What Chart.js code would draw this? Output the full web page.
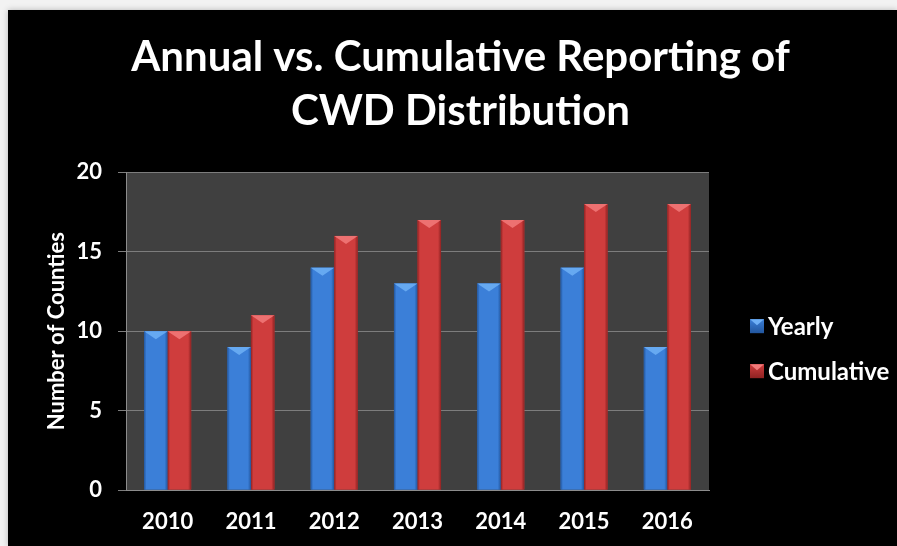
<!DOCTYPE html>
<html lang="en">
  <head>
    <meta charset="UTF-8" />
    <title>Annual vs. Cumulative Reporting of CWD Distribution</title>
    <script src="https://cdn.jsdelivr.net/npm/chart.js"></script>
    <style>
      body {
        margin: 0;
        background-color: #f2f2f2;
        font-family: "Lato", sans-serif;
      }
      .chart-box {
        position: absolute;
        left: 8px;
        top: 10px;
        width: 889px;
        height: 536px;
        background-color: #000;
        box-shadow: 0 0 6px rgba(0, 0, 0, 0.25);
      }
    </style>
  </head>
  <body>
    <div class="chart-box">
      <canvas id="cwdChart" width="889" height="536"></canvas>
    </div>

    <script>
      // data
      var years = ["2010", "2011", "2012", "2013", "2014", "2015", "2016"];
      var yearly = [10, 9, 14, 13, 13, 14, 9];
      var cumulative = [10, 11, 16, 17, 17, 18, 18];
      var yTicks = [0, 5, 10, 15, 20];

      var FONT = "Lato";

      // colours: base, dark edge, light cap
      var shades = [
        { base: "#3b7fd8", dark: "#22569e", light: "#6fb0f6" },
        { base: "#cf3d3d", dark: "#8f2222", light: "#f27a7a" },
      ];

      // dark plot background
      var plotBg = {
        id: "plotBg",
        beforeDraw: function (chart) {
          var a = chart.chartArea;
          var ctx = chart.ctx;
          ctx.save();
          ctx.fillStyle = "#404040";
          ctx.fillRect(a.left, a.top, a.right - a.left, a.bottom - a.top);
          ctx.restore();
        },
      };

      // shade each bar like a rounded column with a pointed cap
      var barShade = {
        id: "barShade",
        afterDatasetsDraw: function (chart) {
          var ctx = chart.ctx;
          chart.data.datasets.forEach(function (ds, i) {
            var s = shades[i];
            chart.getDatasetMeta(i).data.forEach(function (bar) {
              var l = bar.x - bar.width / 2;
              var r = bar.x + bar.width / 2;
              var g = ctx.createLinearGradient(l, 0, r, 0);
              g.addColorStop(0, s.dark);
              g.addColorStop(0.1, s.base);
              g.addColorStop(0.4, s.base);
              g.addColorStop(0.87, s.base);
              g.addColorStop(1, s.dark);
              ctx.save();
              ctx.fillStyle = g;
              ctx.fillRect(l, bar.y, bar.width, bar.base - bar.y);
              // cap
              ctx.beginPath();
              ctx.moveTo(l, bar.y);
              ctx.lineTo(r, bar.y);
              ctx.lineTo(bar.x, bar.y + bar.width * 0.34);
              ctx.closePath();
              ctx.fillStyle = s.light;
              ctx.globalAlpha = 0.85;
              ctx.fill();
              ctx.restore();
            });
          });
        },
      };

      // legend on the right
      var sideLegend = {
        id: "sideLegend",
        afterDraw: function (chart) {
          var a = chart.chartArea;
          var ctx = chart.ctx;
          var x = a.right + 41;
          var y0 = (a.top + a.bottom) / 2 - 5;
          ctx.save();
          ctx.font = "bold 24px " + FONT;
          ctx.textBaseline = "middle";
          chart.data.datasets.forEach(function (ds, i) {
            var s = shades[i];
            var y = y0 + i * 45;
            var g = ctx.createLinearGradient(0, y - 7, 0, y + 7);
            g.addColorStop(0, s.base);
            g.addColorStop(1, s.dark);
            ctx.fillStyle = g;
            ctx.fillRect(x, y - 7, 14, 14);
            ctx.beginPath();
            ctx.moveTo(x, y - 7);
            ctx.lineTo(x + 14, y - 7);
            ctx.lineTo(x + 7, y - 1);
            ctx.closePath();
            ctx.fillStyle = s.light;
            ctx.fill();
            ctx.fillStyle = "#fff";
            ctx.fillText(ds.label, x + 18, y + 1);
          });
          ctx.restore();
        },
      };

      new Chart(document.getElementById("cwdChart").getContext("2d"), {
        type: "bar",
        data: {
          labels: years,
          datasets: [
            {
              label: "Yearly",
              data: yearly,
              backgroundColor: shades[0].base,
            },
            {
              label: "Cumulative",
              data: cumulative,
              backgroundColor: shades[1].base,
            },
          ],
        },
        options: {
          responsive: false,
          animation: false,
          categoryPercentage: 0.565,
          barPercentage: 1,
          layout: {
            padding: { left: 16, right: 0, top: 0, bottom: 0 },
          },
          plugins: {
            legend: { display: false },
            tooltip: { enabled: false },
            title: {
              display: true,
              text: ["Annual vs. Cumulative Reporting of", "CWD Distribution"],
              color: "#fff",
              font: { family: FONT, size: 42, weight: "bold", lineHeight: 1.29 },
              padding: { top: 20, bottom: 34 },
            },
          },
          scales: {
            x: {
              grid: { display: false, drawTicks: false },
              border: { display: true, color: "#8c8c8c", width: 1 },
              ticks: {
                color: "#fff",
                padding: 19,
                font: { family: FONT, size: 22, weight: "bold" },
              },
              afterFit: function (axis) {
                axis.height = 56;
              },
            },
            y: {
              min: 0,
              max: 20,
              afterBuildTicks: function (axis) {
                axis.ticks = yTicks.map(function (v) {
                  return { value: v };
                });
              },
              grid: {
                color: "#7d7d7d",
                tickLength: 8,
              },
              border: { display: true, color: "#8c8c8c", width: 1 },
              ticks: {
                color: "#fff",
                padding: 16,
                font: { family: FONT, size: 22, weight: "bold" },
              },
              title: {
                display: true,
                text: "Number of Counties",
                color: "#fff",
                padding: { top: 20, bottom: 0 },
                font: { family: FONT, size: 22, weight: "bold" },
              },
              afterFit: function (axis) {
                axis.width = 102;
              },
            },
            // empty axis that only reserves room for the legend
            yRoom: {
              type: "linear",
              position: "right",
              grid: { display: false, drawTicks: false },
              border: { display: false },
              ticks: { display: false },
              afterFit: function (axis) {
                axis.width = 188;
              },
            },
          },
        },
        plugins: [plotBg, barShade, sideLegend],
      });
    </script>
  </body>
</html>
